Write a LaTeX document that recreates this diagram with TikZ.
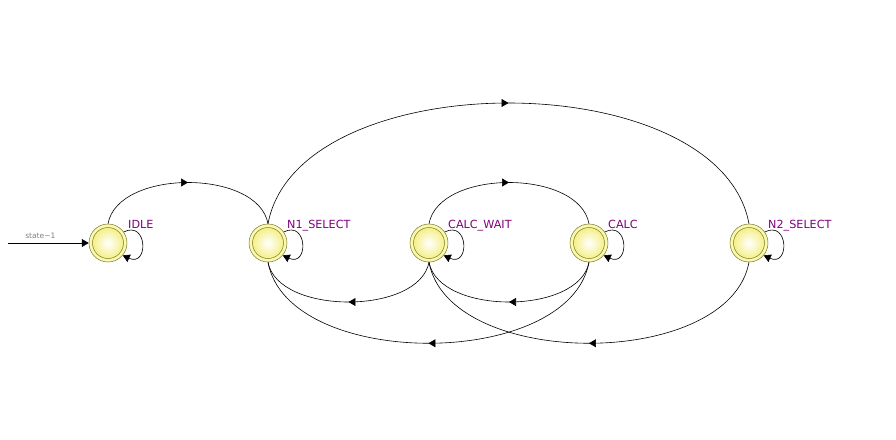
\documentclass[tikz,border=0pt]{standalone}
\usepackage{fontspec}
\setmainfont{DejaVu Sans}
\usetikzlibrary{arrows.meta,decorations.markings}

\definecolor{ringline}{RGB}{120,120,40}
\definecolor{ringfill}{RGB}{250,248,175}
\definecolor{coreyellow}{RGB}{242,236,110}
\definecolor{stname}{RGB}{128,0,128}

\tikzset{
	state/.style={circle, draw=ringline, line width=0.5pt, fill=ringfill, minimum size=38pt, inner sep=0pt,
		path picture={\shade[inner color=white, outer color=coreyellow, draw=ringline, line width=0.5pt]
			(path picture bounding box.center) circle (15.5pt);}},
	stname/.style={text=stname, font=\fontsize{11.2}{13}\selectfont, inner sep=0pt, anchor=base west},
	tr/.style={line width=0.6pt},
	tip/.style={-{Triangle[length=7pt,width=8pt]}},
	midarrow/.style={postaction={decorate}, decoration={markings,
		mark=at position 0.5 with {\arrow{Triangle[length=7pt,width=8pt]}}}}
}

\begin{document}
\begin{tikzpicture}[x=1pt,y=-1pt]
	\useasboundingbox (0,0) rectangle (896,439);

	\node[state] (IDLE) at (108,243) {};
	\node[state] (N1) at (268,243) {};
	\node[state] (CW) at (429,243) {};
	\node[state] (CALC) at (589,243) {};
	\node[state] (N2) at (749,243) {};

	\node[stname] (IDLE-name) at ([shift={(20,-15)}]IDLE.center) {IDLE};
	\node[stname] (N1-name) at ([shift={(19,-15)}]N1.center) {N1\_SELECT};
	\node[stname] (CW-name) at ([shift={(19,-15)}]CW.center) {CALC\_WAIT};
	\node[stname] (CALC-name) at ([shift={(19,-15)}]CALC.center) {CALC};
	\node[stname] (N2-name) at ([shift={(19,-15)}]N2.center) {N2\_SELECT};

	% reset entry
	\coordinate (entry) at (8,243);
	\draw[tr,tip] (entry) -- (IDLE) node[pos=0.4, above=1pt, text=gray, font=\fontsize{7.5}{8}\selectfont] (entry-label) {state\textasciitilde1};

	% self loops
	\foreach \s in {IDLE,N1,CW,CALC,N2}
		\draw[tr,tip] (\s.35) .. controls +(24,-12) and +(26,12) .. (\s.-40);

	% upper arcs
	\draw[tr,midarrow] (IDLE.north) .. controls +(10,-55) and +(-10,-55) .. (N1.north);
	\draw[tr,midarrow] (N1.north) .. controls +(30,-161) and +(-30,-161) .. (N2.north);
	\draw[tr,midarrow] (CW.north) .. controls +(10,-55) and +(-10,-55) .. (CALC.north);

	% lower arcs
	\draw[tr,midarrow] (CW.south) .. controls +(-10,53) and +(10,53) .. (N1.south);
	\draw[tr,midarrow] (CALC.south) .. controls +(-10,53) and +(10,53) .. (CW.south);
	\draw[tr,midarrow] (CALC.south) .. controls +(-20,108) and +(20,108) .. (N1.south);
	\draw[tr,midarrow] (N2.south) .. controls +(-20,108) and +(20,108) .. (CW.south);
\end{tikzpicture}
\end{document}
